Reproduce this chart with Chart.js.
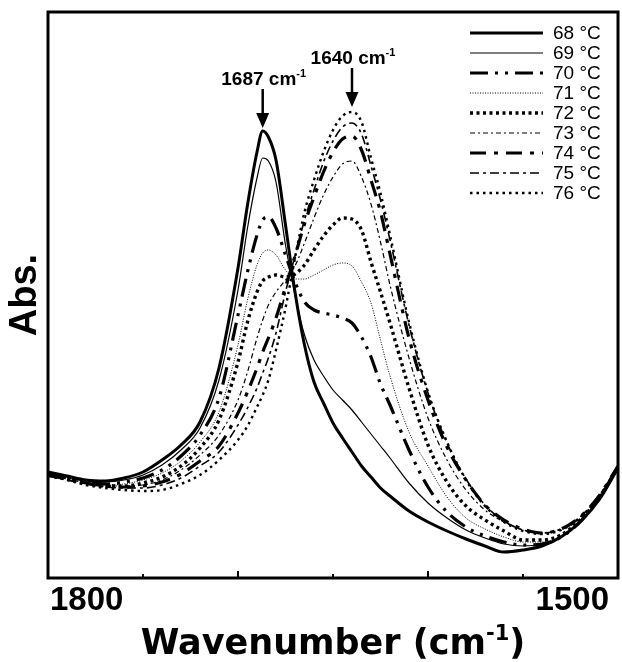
<!DOCTYPE html>
<html lang="en">
<head>
  <meta charset="UTF-8" />
  <title>Amide I spectra vs temperature</title>
  <script src="https://cdn.jsdelivr.net/npm/chart.js"></script>
  <style>
    html, body { margin: 0; padding: 0; background: #fff; }
    #wrap { width: 622px; height: 662px; }
  </style>
</head>
<body>
  <div id="wrap"><canvas id="spectra" width="622" height="662"></canvas></div>

  <script>
    // wavenumber grid (cm-1), shared by every spectrum
    const wavenumbers = [1800, 1790, 1780, 1770, 1760, 1750, 1740, 1730, 1720, 1710,
      1700, 1695, 1690, 1687, 1684, 1680, 1675, 1670, 1665, 1660,
      1655, 1650, 1645, 1640, 1635, 1630, 1625, 1620, 1610, 1600,
      1590, 1580, 1570, 1560, 1550, 1540, 1530, 1520, 1510, 1500];

    // absorbance (arbitrary units)
    const abs68 = [.106, .102, .098, .097, .100, .106, .118, .133, .156, .210,
      .310, .373, .426, .447, .441, .418, .353, .286, .233, .196,
      .175, .155, .140, .126, .112, .101, .090, .082, .067, .056,
      .047, .039, .032, .026, .028, .032, .041, .056, .078, .110];
    const abs69 = [.105, .101, .097, .096, .098, .103, .113, .128, .150, .198,
      .288, .350, .400, .420, .417, .396, .333, .283, .243, .218,
      .202, .188, .178, .168, .156, .144, .132, .120, .095, .075,
      .060, .048, .040, .034, .032, .034, .041, .056, .079, .111];
    const abs70 = [.104, .100, .096, .094, .096, .100, .108, .122, .143, .180,
      .263, .306, .343, .358, .361, .350, .323, .296, .276, .268,
      .265, .263, .260, .255, .241, .221, .194, .173, .128, .091,
      .066, .051, .042, .036, .033, .034, .041, .056, .079, .111];
    const abs71 = [.104, .100, .096, .093, .094, .098, .105, .117, .136, .166,
      .233, .278, .313, .325, .328, .323, .308, .299, .299, .303,
      .308, .313, .315, .312, .296, .275, .238, .202, .146, .112,
      .081, .060, .049, .041, .036, .036, .042, .057, .080, .111];
    const abs72 = [.103, .099, .095, .092, .092, .095, .101, .112, .130, .158,
      .216, .256, .286, .297, .301, .303, .301, .304, .313, .328,
      .342, .353, .360, .359, .348, .316, .286, .255, .190, .133,
      .096, .072, .058, .047, .038, .038, .043, .058, .080, .111];
    const abs73 = [.103, .099, .095, .092, .092, .093, .098, .108, .123, .143,
      .178, .206, .240, .258, .273, .286, .298, .312, .335, .360,
      .383, .401, .414, .417, .401, .374, .336, .293, .220, .160,
      .118, .088, .068, .056, .048, .045, .049, .061, .082, .112];
    const abs74 = [.103, .099, .095, .092, .091, .092, .096, .104, .117, .132,
      .165, .186, .210, .226, .240, .260, .291, .322, .354, .381,
      .406, .426, .439, .442, .428, .398, .366, .324, .240, .178,
      .131, .098, .073, .058, .049, .045, .049, .061, .082, .112];
    const abs75 = [.102, .098, .094, .091, .090, .090, .093, .100, .112, .126,
      .153, .170, .190, .205, .220, .245, .286, .322, .358, .388,
      .416, .437, .451, .455, .444, .412, .378, .338, .253, .185,
      .135, .099, .073, .057, .048, .045, .049, .061, .082, .112];
    const abs76 = [.102, .098, .093, .090, .088, .087, .088, .094, .103, .118,
      .138, .152, .171, .183, .198, .228, .270, .320, .366, .398,
      .426, .448, .462, .466, .456, .420, .385, .343, .256, .186,
      .136, .098, .072, .056, .047, .044, .048, .060, .081, .112];

    const spectra = [abs68, abs69, abs70, abs71, abs72, abs73, abs74, abs75, abs76];
    const tempLabels = ['68 °C', '69 °C', '70 °C', '71 °C', '72 °C', '73 °C', '74 °C', '75 °C', '76 °C'];
    const peakMarks = [1687, 1640];
    const minorTicks = [1750, 1700, 1650, 1600, 1550];
    const labelledTicks = [1800, 1500];

    // black & white line styles, one per temperature
    const lineStyles = [
      { width: 3, dash: [] },
      { width: 1.2, dash: [] },
      { width: 3.2, dash: [18, 7, 3, 7, 3, 7] },
      { width: 1, dash: [1, 1.5] },
      { width: 3.4, dash: [3, 3.5] },
      { width: 1.2, dash: [5, 3, 2, 3] },
      { width: 3.2, dash: [16, 8, 4, 8] },
      { width: 1.6, dash: [9, 4, 3, 4] },
      { width: 2.4, dash: [2.5, 4] }
    ];

    const datasets = spectra.map((s, i) => ({
      label: tempLabels[i],
      data: wavenumbers.map((w, j) => ({ x: w, y: s[j] })),
      borderColor: '#000',
      borderWidth: lineStyles[i].width,
      borderDash: lineStyles[i].dash,
      borderCapStyle: 'butt',
      pointRadius: 0,
      fill: false,
      cubicInterpolationMode: 'monotone'
    }));

    const FONT = '"Liberation Sans", Arial, sans-serif';

    function supText(ctx, cx, baseline, main, sup, tail, size, supSize, family) {
      ctx.font = 'bold ' + size + 'px ' + family;
      const w1 = ctx.measureText(main).width;
      const w3 = ctx.measureText(tail).width;
      ctx.font = 'bold ' + supSize + 'px ' + family;
      const w2 = ctx.measureText(sup).width;
      let x0 = cx - (w1 + w2 + w3) / 2;
      ctx.textAlign = 'left';
      ctx.textBaseline = 'alphabetic';
      ctx.font = 'bold ' + size + 'px ' + family;
      ctx.fillText(main, x0, baseline);
      ctx.font = 'bold ' + supSize + 'px ' + family;
      ctx.fillText(sup, x0 + w1, baseline - size * 0.4);
      ctx.font = 'bold ' + size + 'px ' + family;
      ctx.fillText(tail, x0 + w1 + w2, baseline);
    }

    const extras = {
      id: 'extras',
      afterDatasetsDraw(chart) {
        const { ctx, chartArea: a, scales: { x } } = chart;
        ctx.save();
        ctx.strokeStyle = '#000';
        ctx.fillStyle = '#000';

        // frame
        ctx.lineWidth = 3;
        ctx.strokeRect(a.left, a.top, a.right - a.left, a.bottom - a.top);

        // small inward ticks on the bottom axis
        ctx.lineWidth = 2;
        minorTicks.forEach(v => {
          const px = x.getPixelForValue(v);
          const len = v % 100 === 0 ? 7 : 4;
          ctx.beginPath();
          ctx.moveTo(px, a.bottom);
          ctx.lineTo(px, a.bottom - len);
          ctx.stroke();
        });

        // end labels of the x axis, kept inside the frame width
        ctx.font = 'bold 33px ' + FONT;
        ctx.textBaseline = 'alphabetic';
        labelledTicks.forEach(v => {
          const px = x.getPixelForValue(v);
          const atLeft = px < (a.left + a.right) / 2;
          ctx.textAlign = atLeft ? 'left' : 'right';
          ctx.fillText(String(v), atLeft ? px + 2 : px - 9, 610);
        });

        // legend
        ctx.font = '19px ' + FONT;
        ctx.textAlign = 'left';
        ctx.textBaseline = 'middle';
        chart.data.datasets.forEach((ds, i) => {
          const ly = a.top + 21 + i * 20;
          ctx.lineWidth = ds.borderWidth;
          ctx.setLineDash(ds.borderDash);
          ctx.beginPath();
          ctx.moveTo(470, ly);
          ctx.lineTo(543, ly);
          ctx.stroke();
          ctx.setLineDash([]);
          ctx.fillText(ds.label, 553, ly + 1);
        });

        // peak arrows and labels
        const arrowTops = [89, 68];
        peakMarks.forEach((wn, i) => {
          const px = x.getPixelForValue(wn);
          const top = arrowTops[i];
          ctx.lineWidth = 2.5;
          ctx.beginPath();
          ctx.moveTo(px, top);
          ctx.lineTo(px, top + 26);
          ctx.stroke();
          ctx.beginPath();
          ctx.moveTo(px - 6.5, top + 24);
          ctx.lineTo(px + 6.5, top + 24);
          ctx.lineTo(px, top + 39);
          ctx.closePath();
          ctx.fill();
          supText(ctx, px + 1, top - 4, wn + ' cm', '-1', '', 19, 11, FONT);
        });

        // x axis title
        supText(ctx, (a.left + a.right) / 2, 654, 'Wavenumber (cm', '-1', ')', 35, 21, '"DejaVu Sans", sans-serif');

        ctx.restore();
      }
    };

    new Chart(document.getElementById('spectra'), {
      type: 'line',
      data: { datasets },
      options: {
        responsive: false,
        animation: false,
        devicePixelRatio: 1,
        layout: { padding: { top: 12, right: 4, left: 0, bottom: 0 } },
        plugins: { legend: { display: false }, tooltip: { enabled: false } },
        scales: {
          x: {
            type: 'linear',
            reverse: true,
            min: 1500,
            max: 1800,
            grid: { display: false, drawTicks: false },
            border: { display: false },
            ticks: { display: false, stepSize: 50 },
            afterFit: s => { s.height = 84; }
          },
          y: {
            min: 0,
            max: 0.566,
            grid: { display: false },
            border: { display: false },
            ticks: { display: false },
            title: {
              display: true,
              text: 'Abs.',
              color: '#000',
              padding: { top: 3, bottom: 0 },
              font: { family: FONT, weight: 'bold', size: 38 }
            },
            afterFit: s => { s.width = 48; }
          }
        }
      },
      plugins: [extras]
    });
  </script>
</body>
</html>
